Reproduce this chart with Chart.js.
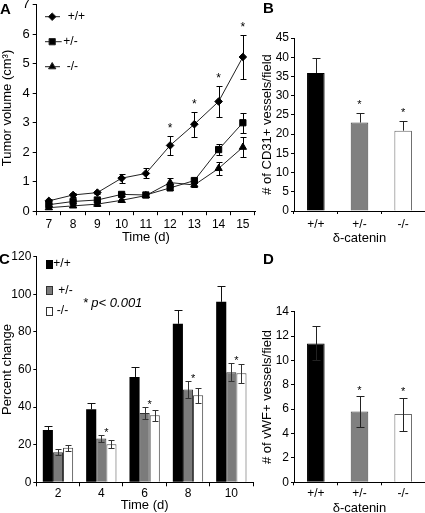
<!DOCTYPE html>
<html><head><meta charset="utf-8">
<script src="https://cdn.jsdelivr.net/npm/chart.js@4.4.1/dist/chart.umd.min.js"></script>
<style>
html,body{margin:0;padding:0;background:#fff}
body{width:425px;height:513px;overflow:hidden;position:relative;font-family:"Liberation Sans",Arial,sans-serif}
canvas{position:absolute}
.pl{position:absolute;font-weight:bold;font-size:15px;line-height:15px;color:#000;z-index:5}
</style></head><body>
<canvas id="cA"></canvas>
<canvas id="cB"></canvas>
<canvas id="cC"></canvas>
<canvas id="cD"></canvas>
<div class="pl" style="left:0px;top:1px">A</div>
<div class="pl" style="left:263px;top:0px">B</div>
<div class="pl" style="left:-1px;top:251px">C</div>
<div class="pl" style="left:263px;top:251px">D</div>
<script>
// ---------------- data ----------------
const daysA = ['7','8','9','10','11','12','13','14','15'];
const volWT     = [0.35,0.55,0.63,1.12,1.28,2.23,2.95,3.72,5.23];
const volWTErr  = [0.06,0.06,0.06,0.15,0.17,0.31,0.42,0.52,0.76];
const volHet    = [0.22,0.33,0.38,0.57,0.55,0.79,1.04,2.09,3.00];
const volHetErr = [0.04,0.05,0.05,0.06,0.06,0.08,0.10,0.18,0.34];
const volKO     = [0.12,0.18,0.24,0.37,0.53,0.97,0.89,1.45,2.17];
const volKOErr  = [0.04,0.04,0.05,0.05,0.06,0.14,0.08,0.22,0.33];
const volSig    = [0,0,0,0,0,1,1,1,1];

const genotypes = ['+/+','+/-','-/-'];
const cd31    = [35.9,23.0,20.9];
const cd31Err = [4.0,2.4,2.4];
const cd31Sig = [0,1,1];

const daysC = ['2','4','6','8','10'];
const pctWT     = [27.8,38.8,56.0,84.3,96.0];
const pctWTErr  = [2.4,3.6,5.2,7.3,8.5];
const pctHet    = [16.0,23.3,36.9,49.4,58.5];
const pctHetErr = [1.5,2.1,3.1,4.4,4.8];
const pctKO     = [18.4,20.3,35.6,46.3,58.0];
const pctKOErr  = [1.5,2.0,3.0,3.9,5.0];
const pctSig    = [0,1,1,1,1];

const vwf    = [11.4,5.8,5.6];
const vwfErr = [1.4,1.27,1.35];
const vwfSig = [0,1,1];

// ---------------- helpers ----------------
const FAM = '"Liberation Sans", Arial, Helvetica, sans-serif';
Chart.defaults.font.family = FAM;
Chart.defaults.color = '#000';
Chart.defaults.animation = false;

function setupCanvas(id, r) {
  const c = document.getElementById(id);
  c.width = r.width; c.height = r.height;
  c.style.left = r.left + 'px'; c.style.top = r.top + 'px';
  c.style.width = r.width + 'px'; c.style.height = r.height + 'px';
  return c;
}
function layoutFor(c, a) {
  return {
    padding: { top: a.top - c.top, right: (c.left + c.width) - a.right, left: 0, bottom: 0 },
    yW: a.left - c.left,
    xH: (c.top + c.height) - a.bottom
  };
}
function xAxis(L, o) {
  return { type: 'category', offset: true,
    grid: { offset: true, drawOnChartArea: false, drawTicks: true, tickLength: o.tl, color: '#000' },
    border: { display: true, color: '#000', width: 1 },
    ticks: { color: '#000', font: { size: o.fs }, padding: o.pad, maxRotation: 0, autoSkip: false },
    title: { display: true, text: o.title, color: '#000', font: { size: 13 }, padding: 0 },
    afterFit(s) { s.height = L.xH; } };
}
function yAxis(L, o) {
  return { type: 'linear', min: o.min, max: o.max,
    grid: { drawOnChartArea: false, drawTicks: true, tickLength: o.tl, color: '#000' },
    border: { display: true, color: '#000', width: 1 },
    ticks: { stepSize: o.step, color: '#000', font: { size: o.fs }, padding: o.pad },
    title: { display: true, text: o.title, color: '#000', font: { size: 13 }, padding: { top: o.tpad, bottom: 0 } },
    afterFit(s) { s.width = L.yW; } };
}
function errorBars(before) {
  const draw = (chart) => {
    const ctx = chart.ctx, ys = chart.scales.y;
    chart.data.datasets.forEach((ds, i) => {
      if (!ds.errors) return;
      const meta = chart.getDatasetMeta(i);
      ctx.save();
      ctx.strokeStyle = ds.errColor || '#000'; ctx.lineWidth = 1;
      meta.data.forEach((el, j) => {
        const v = ds.data[j], e = ds.errors[j];
        const x = Math.round(el.x) + 0.5;
        const yt = Math.round(ys.getPixelForValue(v + e)) + 0.5;
        const yb = ds.errUp ? ys.getPixelForValue(v) : Math.round(ys.getPixelForValue(v - e)) + 0.5;
        const cw = ds.capHalf || 3;
        ctx.beginPath();
        ctx.moveTo(x, yt); ctx.lineTo(x, yb);
        ctx.moveTo(x - cw, yt); ctx.lineTo(x + cw, yt);
        if (!ds.errUp) { ctx.moveTo(x - cw, yb); ctx.lineTo(x + cw, yb); }
        ctx.stroke();
      });
      ctx.restore();
    });
  };
  return before ? { id: 'eb', beforeDatasetsDraw: draw } : { id: 'eb', afterDatasetsDraw: draw };
}
function starPlugin(sets, sig, dy, size) {
  return { id: 'stars', afterDatasetsDraw(chart) {
    const ctx = chart.ctx, ys = chart.scales.y;
    ctx.save(); ctx.fillStyle = '#000'; ctx.font = size + 'px ' + FAM;
    ctx.textAlign = 'center'; ctx.textBaseline = 'alphabetic';
    sig.forEach((s, j) => {
      if (!s) return;
      let xs = 0, top = Infinity;
      sets.forEach(i => {
        const ds = chart.data.datasets[i];
        const el = chart.getDatasetMeta(i).data[j];
        xs += el.x;
        top = Math.min(top, ys.getPixelForValue(ds.data[j] + ds.errors[j]));
      });
      ctx.fillText('*', xs / sets.length, top - dy);
    });
    ctx.restore();
  }};
}
function marker(ctx, style, r, x, y) {
  ctx.beginPath();
  if (style === 'rectRot') {
    ctx.moveTo(x, y - r); ctx.lineTo(x + r, y); ctx.lineTo(x, y + r); ctx.lineTo(x - r, y);
  } else if (style === 'rect') {
    const h = Math.SQRT1_2 * r; ctx.rect(x - h, y - h, 2 * h, 2 * h);
  } else {
    ctx.moveTo(x, y - r); ctx.lineTo(x + 0.866 * r, y + 0.5 * r); ctx.lineTo(x - 0.866 * r, y + 0.5 * r);
  }
  ctx.closePath(); ctx.fill(); ctx.stroke();
}

// ---------------- Panel A ----------------
const rA = { left: 0, top: -8, width: 265, height: 253 };
const LA = layoutFor(rA, { left: 36.7, right: 255, top: 4.8, bottom: 211.2 });
setupCanvas('cA', rA);
const legendA = { id: 'legendA', afterDraw(chart) {
  const ctx = chart.ctx, a = chart.chartArea;
  const rows = [
    { dy: 11.9, style: 'rectRot', r: 3.8, text: '+/+', x1: 8.3, x2: 23.3, tx: 31 },
    { dy: 36.9, style: 'rect', r: 4.4, text: '+/-', x1: 8.3, x2: 25, tx: 26.6 },
    { dy: 61.9, style: 'triangle', r: 4.2, text: '-/-', x1: 8.3, x2: 23.3, tx: 30 }
  ];
  ctx.save();
  ctx.strokeStyle = '#222'; ctx.fillStyle = '#000'; ctx.lineWidth = 1;
  ctx.font = '12px ' + FAM; ctx.textBaseline = 'middle'; ctx.textAlign = 'left';
  rows.forEach(rw => {
    const y = a.top + rw.dy;
    ctx.beginPath(); ctx.moveTo(a.left + rw.x1, y); ctx.lineTo(a.left + rw.x2, y); ctx.stroke();
    marker(ctx, rw.style, rw.r, a.left + 15.5, y);
    ctx.fillText(rw.text, a.left + rw.tx, y);
  });
  ctx.restore();
}};
function lineSet(label, data, err, style, r) {
  return { label, data, errors: err, errColor: '#000', capHalf: 3,
    borderColor: '#222', borderWidth: 1, backgroundColor: '#000',
    pointStyle: style, pointRadius: r, pointBorderWidth: 1,
    pointBackgroundColor: '#000', pointBorderColor: '#000', tension: 0, clip: false };
}
new Chart(document.getElementById('cA'), {
  type: 'line',
  data: { labels: daysA, datasets: [
    lineSet('+/+', volWT, volWTErr, 'rectRot', 3.8),
    lineSet('+/-', volHet, volHetErr, 'rect', 4.4),
    lineSet('-/-', volKO, volKOErr, 'triangle', 4.2)
  ]},
  options: { responsive: false, devicePixelRatio: 1,
    layout: { padding: LA.padding },
    plugins: { legend: { display: false }, tooltip: { enabled: false } },
    scales: {
      x: xAxis(LA, { tl: 4, fs: 12, pad: 2, title: 'Time (d)' }),
      y: yAxis(LA, { min: 0, max: 7, step: 1, tl: 4, fs: 13, pad: 3, tpad: 0, title: 'Tumor volume (cm³)' })
    }
  },
  plugins: [errorBars(true), starPlugin([0], volSig, 4, 12), legendA]
});

// ---------------- Panel B ----------------
const rB = { left: 255, top: 0, width: 170, height: 246 };
const LB = layoutFor(rB, { left: 294, right: 425, top: 38, bottom: 211 });
setupCanvas('cB', rB);
new Chart(document.getElementById('cB'), {
  type: 'bar',
  data: { labels: genotypes, datasets: [{
    data: cd31, errors: cd31Err, errUp: true, errColor: '#222', capHalf: 4,
    backgroundColor: ['#000', '#808080', '#fff'], borderColor: ['#000', '#444', '#666'],
    borderWidth: 1, categoryPercentage: 1, barPercentage: 0.403
  }]},
  options: { responsive: false, devicePixelRatio: 1,
    layout: { padding: LB.padding },
    plugins: { legend: { display: false }, tooltip: { enabled: false } },
    scales: {
      x: xAxis(LB, { tl: 3, fs: 12, pad: 3, title: 'δ-catenin' }),
      y: yAxis(LB, { min: 0, max: 45, step: 5, tl: 3, fs: 12, pad: 2, tpad: 4.2, title: '# of CD31+ vessels/field' })
    }
  },
  plugins: [errorBars(false), starPlugin([0], cd31Sig, 5, 11)]
});

// ---------------- Panel C ----------------
const rC = { left: 0, top: 242, width: 265, height: 271 };
const LC = layoutFor(rC, { left: 36.3, right: 253, top: 256.7, bottom: 482.3 });
setupCanvas('cC', rC);
const legendC = { id: 'legendC', afterDraw(chart) {
  const ctx = chart.ctx, a = chart.chartArea;
  const rows = [
    { dy: 7.3, fill: '#000', stroke: '#000', text: '+/+', tx: 17 },
    { dy: 33.8, fill: '#7b7b7b', stroke: '#333', text: '+/-', tx: 22 },
    { dy: 54.3, fill: '#fff', stroke: '#333', text: '-/-', tx: 20.5 }
  ];
  ctx.save();
  ctx.font = '12px ' + FAM; ctx.textBaseline = 'middle'; ctx.textAlign = 'left'; ctx.lineWidth = 1;
  rows.forEach(rw => {
    const y = a.top + rw.dy;
    const x0 = Math.round(a.left + 9.2) + 0.5, y0 = Math.round(y - 4) + 0.5;
    ctx.fillStyle = rw.fill; ctx.strokeStyle = rw.stroke;
    ctx.fillRect(x0, y0, 6, 8); ctx.strokeRect(x0, y0, 6, 8);
    ctx.fillStyle = '#000';
    ctx.fillText(rw.text, a.left + rw.tx, y);
  });
  ctx.font = 'italic 13px ' + FAM;
  ctx.fillText('* p< 0.001', a.left + 46.4, a.top + 46.6);
  ctx.restore();
}};
new Chart(document.getElementById('cC'), {
  type: 'bar',
  data: { labels: daysC, datasets: [
    { label: '+/+', data: pctWT, errors: pctWTErr, errUp: true, errColor: '#111', capHalf: 4,
      backgroundColor: '#000', borderColor: '#000', borderWidth: 0 },
    { label: '+/-', data: pctHet, errors: pctHetErr, errColor: '#333', capHalf: 3,
      backgroundColor: '#7b7b7b', borderColor: '#333', borderWidth: 1 },
    { label: '-/-', data: pctKO, errors: pctKOErr, errColor: '#333', capHalf: 3,
      backgroundColor: '#fff', borderColor: '#444', borderWidth: 1 }
  ]},
  options: { responsive: false, devicePixelRatio: 1,
    layout: { padding: LC.padding },
    datasets: { bar: { categoryPercentage: 0.7, barPercentage: 1 } },
    plugins: { legend: { display: false }, tooltip: { enabled: false } },
    scales: {
      x: xAxis(LC, { tl: 4, fs: 12, pad: 0, title: 'Time (d)' }),
      y: yAxis(LC, { min: 0, max: 120, step: 20, tl: 3, fs: 12, pad: 2, tpad: 0, title: 'Percent change' })
    }
  },
  plugins: [errorBars(false), starPlugin([1, 2], pctSig, -1, 11), legendC]
});

// ---------------- Panel D ----------------
const rD = { left: 255, top: 245, width: 170, height: 271 };
const LD = layoutFor(rD, { left: 294, right: 425, top: 311.7, bottom: 482.3 });
setupCanvas('cD', rD);
new Chart(document.getElementById('cD'), {
  type: 'bar',
  data: { labels: genotypes, datasets: [{
    data: vwf, errors: vwfErr, errUp: false, errColor: '#222', capHalf: 4,
    backgroundColor: ['#000', '#808080', '#fff'], borderColor: ['#000', '#444', '#666'],
    borderWidth: 1, categoryPercentage: 1, barPercentage: 0.403
  }]},
  options: { responsive: false, devicePixelRatio: 1,
    layout: { padding: LD.padding },
    plugins: { legend: { display: false }, tooltip: { enabled: false } },
    scales: {
      x: xAxis(LD, { tl: 3, fs: 12, pad: 1, title: 'δ-catenin' }),
      y: yAxis(LD, { min: 0, max: 14, step: 2, tl: 3, fs: 12, pad: 2, tpad: 4.2, title: '# of vWF+ vessels/field' })
    }
  },
  plugins: [errorBars(false), starPlugin([0], vwfSig, 2.5, 11)]
});
</script>
</body></html>
